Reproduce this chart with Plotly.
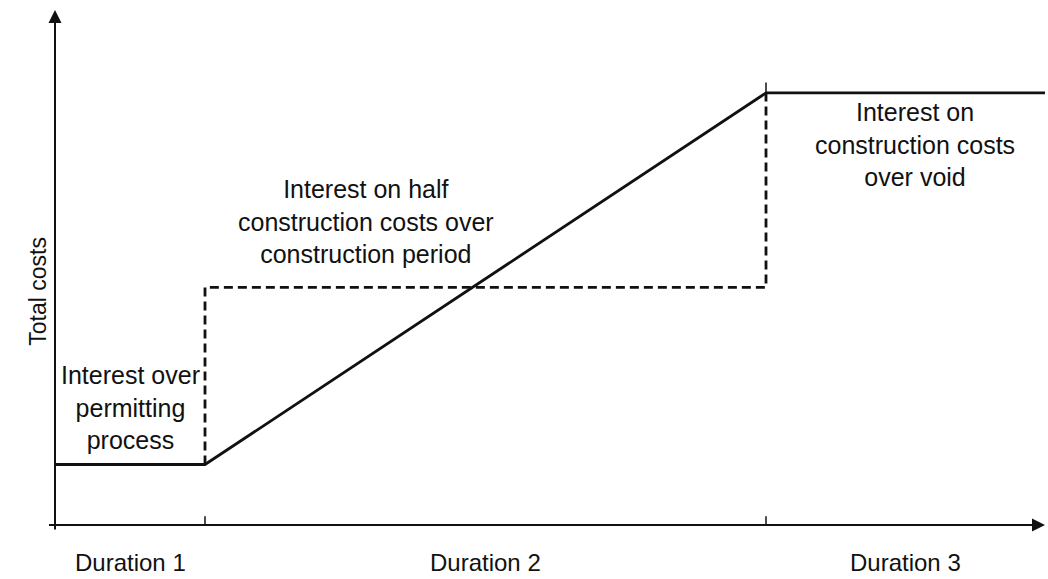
import plotly.graph_objects as go

# ---- data (abstract units) ----
phase_bounds = [0, 1, 4.74, 6.6]          # time points: start, end D1, end D2, end of chart
solid_costs = [1.4, 1.4, 10, 10]          # total cost curve
dashed_x = [1, 1, 4.74, 4.74]
dashed_y = [1.4, 5.5, 5.5, 10]            # stepped "half construction cost" approximation
duration_labels = ["Duration 1", "Duration 2", "Duration 3"]
region_texts = [
    "Interest over<br>permitting<br>process",
    "Interest on half<br>construction costs over<br>construction period",
    "Interest on<br>construction costs<br>over void",
]
region_x = [0.5, 2.07, 5.73]
region_y = [2.71, 7.02, 8.8]
x_max = 6.6
y_max = 11.92

FONT = "Liberation Sans, Arial, sans-serif"
INK = "#111111"

fig = go.Figure()
fig.add_trace(go.Scatter(x=phase_bounds, y=solid_costs, mode="lines",
                         line=dict(color=INK, width=2.8), hoverinfo="skip",
                         cliponaxis=False))
fig.add_trace(go.Scatter(x=dashed_x, y=dashed_y, mode="lines",
                         line=dict(color=INK, width=2.8, dash="9px,5px"),
                         hoverinfo="skip", cliponaxis=False))

annotations = []
# axes with arrows
annotations.append(dict(x=x_max, y=0, ax=-0.05, ay=0, xref="x", yref="y",
                        axref="x", ayref="y", text="", showarrow=True,
                        arrowhead=2, arrowsize=1.3, arrowwidth=2, arrowcolor=INK,
                        standoff=0, startstandoff=0))
annotations.append(dict(x=0, y=y_max, ax=0, ay=-0.14, xref="x", yref="y",
                        axref="x", ayref="y", text="", showarrow=True,
                        arrowhead=2, arrowsize=1.3, arrowwidth=2, arrowcolor=INK,
                        standoff=0, startstandoff=0))

# duration labels centred in each phase (below the x axis)
for i, lab in enumerate(duration_labels):
    xc = (phase_bounds[i] + phase_bounds[i + 1]) / 2
    annotations.append(dict(x=xc, y=0, xref="x", yref="paper", yshift=-37,
                            text=lab, showarrow=False, yanchor="middle",
                            font=dict(family=FONT, size=24, color=INK)))

for t, xx, yy in zip(region_texts, region_x, region_y):
    annotations.append(dict(x=xx, y=yy, xref="x", yref="y", text=t,
                            showarrow=False, yanchor="middle", align="center",
                            font=dict(family=FONT, size=25, color=INK)))

annotations.append(dict(x=0, y=5.4, xref="paper", yref="y", xshift=-32,
                        text="Total costs", textangle=-90, showarrow=False,
                        font=dict(family=FONT, size=23, color=INK)))

shapes = []
for b in phase_bounds[1:3]:
    shapes.append(dict(type="line", xref="x", yref="y", x0=b, x1=b,
                       y0=-0.22, y1=0.2, line=dict(color=INK, width=1.5)))
shapes.append(dict(type="line", xref="x", yref="y", x0=phase_bounds[2], x1=phase_bounds[2],
                   y0=solid_costs[2], y1=solid_costs[2] + 0.24,
                   line=dict(color=INK, width=1.5)))

fig.update_layout(
    width=1048, height=579,
    margin=dict(l=55, r=3, t=10, b=54),
    paper_bgcolor="white", plot_bgcolor="white",
    showlegend=False,
    xaxis=dict(range=[0, x_max], visible=False, fixedrange=True),
    yaxis=dict(range=[0, y_max], visible=False, fixedrange=True),
    annotations=annotations,
    shapes=shapes,
)

fig.write_html("out.html", config={"displayModeBar": False},
               post_script="document.body.style.margin='0';document.body.style.overflow='hidden';")
